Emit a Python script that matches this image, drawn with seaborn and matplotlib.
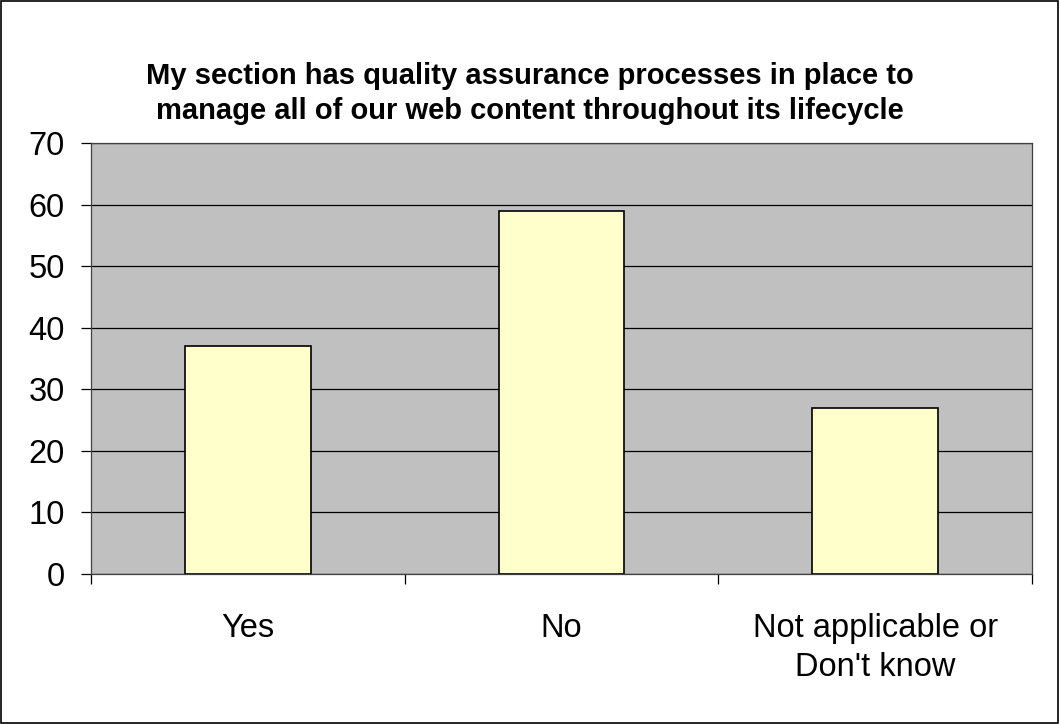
import numpy as np
import pandas as pd
import seaborn as sns
import matplotlib.pyplot as plt
from matplotlib.patches import Rectangle

# Data
categories = ["Yes", "No", "Not applicable or\nDon't know"]
counts = [37, 59, 27]
title = ("My section has quality assurance processes in place to\n"
         "manage all of our web content throughout its lifecycle")


def main():
    sns.set_theme(style="white")
    plt.rcParams['font.family'] = ['Liberation Sans', 'DejaVu Sans']

    df = pd.DataFrame({"answer": categories, "count": counts})

    fig = plt.figure(figsize=(10.6, 7.24), dpi=100)
    ax = fig.add_axes([0.0858, 0.2072, 0.8878, 0.5953])
    ax.set_facecolor("#C0C0C0")

    sns.barplot(data=df, x="answer", y="count", ax=ax, color="#FFFFCC",
                edgecolor="black", linewidth=1.2, width=0.4, saturation=1)

    ax.set_ylim(0, 70)
    ax.set_xlim(-0.5, 2.5)
    ax.set_yticks(np.arange(0, 71, 10))
    ax.yaxis.grid(True, color="black", linewidth=0.9)
    ax.set_axisbelow(True)
    ax.set_xlabel("")
    ax.set_ylabel("")

    for s in ax.spines.values():
        s.set_visible(True)
        s.set_color("#404040")
        s.set_linewidth(0.9)

    ax.tick_params(axis="y", which="major", left=True, length=7, width=0.9,
                   color="black", labelsize=23.5, pad=12, labelcolor="black")
    # category labels without marks, boundary ticks as minor
    ax.tick_params(axis="x", which="major", bottom=False, labelsize=23.5,
                   pad=22, labelcolor="black")
    for lab in ax.get_xticklabels():
        lab.set_linespacing(1.35)
    ax.set_xticks([-0.5, 0.5, 1.5, 2.5], minor=True)
    ax.tick_params(axis="x", which="minor", bottom=True, length=7, width=0.9,
                   color="black")

    fig.text(0.5, 0.871, title, ha="center", va="center", fontsize=21,
             fontweight="bold", linespacing=1.35, color="black")

    # frame around the whole chart
    fig.patches.append(Rectangle((0.001, 0.001), 0.997, 0.997,
                                 transform=fig.transFigure, fill=False,
                                 edgecolor="black", linewidth=1.2))

    fig.savefig("out.png", dpi=100, facecolor="white")
    plt.close(fig)


if __name__ == "__main__":
    main()
